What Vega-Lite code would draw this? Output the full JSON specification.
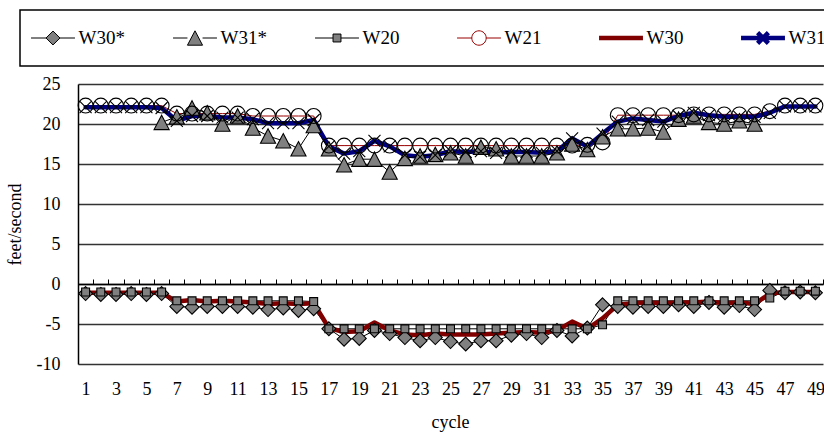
{
  "$schema": "https://vega.github.io/schema/vega-lite/v6.json",
  "width": 745,
  "height": 280,
  "autosize": {"type": "none"},
  "padding": {"left": 78, "top": 84, "right": 1, "bottom": 72},
  "background": "white",
  "config": {
    "view": {"stroke": null},
    "font": "Liberation Serif",
    "axis": {"labelFont": "Liberation Serif", "titleFont": "Liberation Serif", "labelColor": "black", "titleColor": "black", "titleFontWeight": "normal", "labelFontSize": 18, "titleFontSize": 18, "labelFlush": false},
    "legend": {"labelFont": "Liberation Serif", "labelFontSize": 19, "labelColor": "black", "labelLimit": 0}
  },
  "data": {
    "values": [
      {"cycle": 1, "W30*": -1.2, "W31*": null, "W20": -1.0, "W21": 22.3, "W30": -1.1, "W31": 22.1},
      {"cycle": 2, "W30*": -1.3, "W31*": null, "W20": -1.0, "W21": 22.3, "W30": -1.1, "W31": 22.1},
      {"cycle": 3, "W30*": -1.3, "W31*": null, "W20": -1.0, "W21": 22.3, "W30": -1.1, "W31": 22.1},
      {"cycle": 4, "W30*": -1.2, "W31*": null, "W20": -1.0, "W21": 22.3, "W30": -1.1, "W31": 22.1},
      {"cycle": 5, "W30*": -1.3, "W31*": null, "W20": -1.0, "W21": 22.3, "W30": -1.1, "W31": 22.1},
      {"cycle": 6, "W30*": -1.2, "W31*": 20.2, "W20": -1.0, "W21": 22.3, "W30": -1.1, "W31": 22.0},
      {"cycle": 7, "W30*": -2.8, "W31*": 20.9, "W20": -2.1, "W21": 21.3, "W30": -2.2, "W31": 20.4},
      {"cycle": 8, "W30*": -2.9, "W31*": 22.0, "W20": -2.1, "W21": 21.3, "W30": -2.0, "W31": 21.0},
      {"cycle": 9, "W30*": -2.8, "W31*": 21.4, "W20": -2.1, "W21": 21.3, "W30": -2.2, "W31": 21.0},
      {"cycle": 10, "W30*": -2.8, "W31*": 20.0, "W20": -2.1, "W21": 21.3, "W30": -2.1, "W31": 20.8},
      {"cycle": 11, "W30*": -2.8, "W31*": 21.0, "W20": -2.1, "W21": 21.3, "W30": -2.2, "W31": 20.8},
      {"cycle": 12, "W30*": -2.9, "W31*": 19.5, "W20": -2.1, "W21": 21.0, "W30": -2.3, "W31": 20.6},
      {"cycle": 13, "W30*": -3.2, "W31*": 18.5, "W20": -2.1, "W21": 21.0, "W30": -2.5, "W31": 20.1},
      {"cycle": 14, "W30*": -3.0, "W31*": 17.9, "W20": -2.1, "W21": 21.0, "W30": -2.4, "W31": 20.1},
      {"cycle": 15, "W30*": -3.3, "W31*": 16.9, "W20": -2.1, "W21": 21.0, "W30": -2.5, "W31": 20.1},
      {"cycle": 16, "W30*": -3.1, "W31*": 19.8, "W20": -2.2, "W21": 21.0, "W30": -2.4, "W31": 20.5},
      {"cycle": 17, "W30*": -5.6, "W31*": 16.9, "W20": -5.6, "W21": 17.3, "W30": -5.5, "W31": 17.2},
      {"cycle": 18, "W30*": -6.9, "W31*": 14.9, "W20": -5.6, "W21": 17.3, "W30": -6.0, "W31": 16.3},
      {"cycle": 19, "W30*": -6.8, "W31*": 15.6, "W20": -5.6, "W21": 17.3, "W30": -5.9, "W31": 16.6},
      {"cycle": 20, "W30*": -5.8, "W31*": 15.6, "W20": -5.6, "W21": 17.3, "W30": -4.8, "W31": 17.9},
      {"cycle": 21, "W30*": -6.2, "W31*": 14.0, "W20": -5.6, "W21": 17.3, "W30": -5.8, "W31": 17.2},
      {"cycle": 22, "W30*": -6.7, "W31*": 15.7, "W20": -5.6, "W21": 17.3, "W30": -6.3, "W31": 16.1},
      {"cycle": 23, "W30*": -7.1, "W31*": 16.0, "W20": -5.6, "W21": 17.3, "W30": -6.4, "W31": 15.9},
      {"cycle": 24, "W30*": -6.7, "W31*": 16.2, "W20": -5.6, "W21": 17.3, "W30": -6.2, "W31": 16.1},
      {"cycle": 25, "W30*": -7.2, "W31*": 16.4, "W20": -5.6, "W21": 17.3, "W30": -6.3, "W31": 16.6},
      {"cycle": 26, "W30*": -7.5, "W31*": 16.0, "W20": -5.6, "W21": 17.3, "W30": -6.3, "W31": 16.5},
      {"cycle": 27, "W30*": -7.1, "W31*": 17.1, "W20": -5.6, "W21": 17.3, "W30": -6.3, "W31": 16.6},
      {"cycle": 28, "W30*": -7.1, "W31*": 16.9, "W20": -5.6, "W21": 17.3, "W30": -6.2, "W31": 16.4},
      {"cycle": 29, "W30*": -6.4, "W31*": 16.0, "W20": -5.6, "W21": 17.3, "W30": -6.1, "W31": 16.5},
      {"cycle": 30, "W30*": -6.2, "W31*": 16.0, "W20": -5.6, "W21": 17.3, "W30": -6.0, "W31": 16.5},
      {"cycle": 31, "W30*": -6.7, "W31*": 16.0, "W20": -5.6, "W21": 17.3, "W30": -6.1, "W31": 16.4},
      {"cycle": 32, "W30*": -5.8, "W31*": 16.4, "W20": -5.6, "W21": 17.3, "W30": -5.8, "W31": 16.6},
      {"cycle": 33, "W30*": -6.5, "W31*": 17.5, "W20": -5.6, "W21": 17.3, "W30": -4.7, "W31": 18.2},
      {"cycle": 34, "W30*": -5.5, "W31*": 16.8, "W20": -5.6, "W21": 17.4, "W30": -5.6, "W31": 17.2},
      {"cycle": 35, "W30*": -2.6, "W31*": 18.4, "W20": -5.1, "W21": 17.7, "W30": -4.3, "W31": 18.8},
      {"cycle": 36, "W30*": -2.8, "W31*": 19.4, "W20": -2.1, "W21": 21.1, "W30": -2.6, "W31": 20.3},
      {"cycle": 37, "W30*": -2.9, "W31*": 19.4, "W20": -2.1, "W21": 21.1, "W30": -2.4, "W31": 20.7},
      {"cycle": 38, "W30*": -2.8, "W31*": 19.5, "W20": -2.1, "W21": 21.1, "W30": -2.3, "W31": 20.5},
      {"cycle": 39, "W30*": -2.8, "W31*": 19.0, "W20": -2.1, "W21": 21.1, "W30": -2.4, "W31": 20.3},
      {"cycle": 40, "W30*": -2.6, "W31*": 20.6, "W20": -2.1, "W21": 21.1, "W30": -2.3, "W31": 21.0},
      {"cycle": 41, "W30*": -2.8, "W31*": 21.0, "W20": -2.1, "W21": 21.2, "W30": -2.3, "W31": 21.4},
      {"cycle": 42, "W30*": -2.3, "W31*": 20.2, "W20": -2.1, "W21": 21.2, "W30": -2.2, "W31": 21.1},
      {"cycle": 43, "W30*": -2.9, "W31*": 20.0, "W20": -2.1, "W21": 21.2, "W30": -2.4, "W31": 20.9},
      {"cycle": 44, "W30*": -2.7, "W31*": 20.4, "W20": -2.1, "W21": 21.2, "W30": -2.3, "W31": 20.9},
      {"cycle": 45, "W30*": -3.2, "W31*": 20.0, "W20": -2.1, "W21": 21.2, "W30": -2.5, "W31": 20.9},
      {"cycle": 46, "W30*": -0.8, "W31*": null, "W20": -1.75, "W21": 21.6, "W30": -1.2, "W31": 21.4},
      {"cycle": 47, "W30*": -1.1, "W31*": null, "W20": -0.9, "W21": 22.3, "W30": -1.0, "W31": 22.2},
      {"cycle": 48, "W30*": -1.0, "W31*": null, "W20": -0.9, "W21": 22.3, "W30": -1.0, "W31": 22.2},
      {"cycle": 49, "W30*": -1.1, "W31*": null, "W20": -0.9, "W21": 22.3, "W30": -1.0, "W31": 22.2}
    ]
  },
  "transform": [
    {"fold": ["W30*", "W31*", "W20", "W21", "W30", "W31"], "as": ["series", "v"]},
    {"filter": "isValid(datum.v)"}
  ],
  "encoding": {
    "x": {
      "field": "cycle", "type": "quantitative",
      "scale": {"domain": [0.5, 49.5], "nice": false, "zero": false},
      "axis": {
        "orient": "bottom", "offset": -80,
        "values": [0.5, 1.5, 2.5, 3.5, 4.5, 5.5, 6.5, 7.5, 8.5, 9.5, 10.5, 11.5, 12.5, 13.5, 14.5, 15.5, 16.5, 17.5, 18.5, 19.5, 20.5, 21.5, 22.5, 23.5, 24.5, 25.5, 26.5, 27.5, 28.5, 29.5, 30.5, 31.5, 32.5, 33.5, 34.5, 35.5, 36.5, 37.5, 38.5, 39.5, 40.5, 41.5, 42.5, 43.5, 44.5, 45.5, 46.5, 47.5, 48.5, 49.5],
        "labelExpr": "(datum.value + 0.5) % 2 == 1 ? '' + (datum.value + 0.5) : ''",
        "labelOffset": 7.6, "labelOverlap": false, "labelBound": false,
        "ticks": true, "tickSize": -5, "tickColor": "black", "tickWidth": 1,
        "domain": true, "domainColor": "black", "domainWidth": 1.3, "grid": false,
        "labelPadding": 110, "labelBaseline": "middle",
        "title": "cycle", "titleX": 372, "titleY": 138, "titleAlign": "center", "titleBaseline": "middle"
      }
    },
    "y": {
      "field": "v", "type": "quantitative",
      "scale": {"domain": [-10, 25], "nice": false, "zero": false},
      "axis": {
        "values": [-10, -5, 0, 5, 10, 15, 20, 25],
        "labelExpr": "'' + datum.value", "labelOverlap": false,
        "grid": true, "gridColor": "#333333", "gridWidth": 1.3,
        "domain": true, "domainColor": "black", "domainWidth": 1.5,
        "ticks": false, "tickSize": 0, "labelPadding": 18,
        "title": "feet/second", "titleX": -63, "titleY": 140, "titleAngle": -90,
        "titleAlign": "center", "titleBaseline": "middle"
      }
    }
  },
  "layer": [
    {
      "mark": {"type": "line", "strokeJoin": "round", "strokeCap": "round"},
      "encoding": {
        "color": {
          "field": "series", "type": "nominal",
          "scale": {"domain": ["W30*", "W31*", "W20", "W21", "W30", "W31"], "range": ["#000000", "#000000", "#000000", "#990000", "#800000", "#000080"]},
          "legend": {
            "title": null, "orient": "none", "legendX": -58, "legendY": -74,
            "direction": "horizontal", "columns": 6, "gridAlign": "all", "columnPadding": 45,
            "padding": 8, "clipHeight": 40, "strokeColor": "black", "fillColor": "white",
            "symbolSize": 576, "symbolStrokeWidth": 1.5, "symbolOffset": 10.5,
            "labelOffset": 11,
            "encode": {
              "legend": {"update": {"strokeWidth": {"value": 1.5}}},
              "symbols": {
                "update": {
                  "shape": {"signal": "datum.value === 'W30*' ? 'M-1.83,0H-0.58M0.58,0H1.83M0,-0.58L0.58,0L0,0.58L-0.58,0Z' : datum.value === 'W31*' ? 'M-1.83,0H-0.63M0.63,0H1.83M0,-0.6L0.63,0.6L-0.63,0.6Z' : datum.value === 'W20' ? 'M-1.83,0H-0.33M0.33,0H1.83M-0.33,-0.33H0.33V0.33H-0.33Z' : datum.value === 'W21' ? 'M-1.83,0H-0.6M0.6,0H1.83M0.6,0A0.6,0.6,0,1,1,-0.6,0A0.6,0.6,0,1,1,0.6,0Z' : datum.value === 'W31' ? 'M-1.83,0H1.83M-0.45,-0.45L0.45,0.45M0.45,-0.45L-0.45,0.45' : 'M-1.83,0H1.83'"},
                  "fill": {"signal": "indexof(['W30*', 'W31*', 'W20'], datum.value) >= 0 ? '#808080' : 'transparent'"},
                  "strokeWidth": {"signal": "datum.value === 'W30' || datum.value === 'W31' ? 4 : 1"},
                  "opacity": {"value": 1}
                }
              }
            }
          }
        },
        "strokeWidth": {
          "field": "series", "type": "nominal",
          "scale": {"type": "ordinal", "domain": ["W30*", "W31*", "W20", "W21", "W30", "W31"], "range": [1, 1, 1, 1, 4.5, 4.5]},
          "legend": null
        }
      }
    },
    {
      "transform": [{"filter": "datum.series !== 'W30'"}],
      "mark": {"type": "point", "filled": true, "stroke": "black", "strokeWidth": 1.1, "size": 576, "opacity": 1},
      "encoding": {
        "shape": {
          "field": "series", "type": "nominal",
          "scale": {
            "domain": ["W30*", "W31*", "W20", "W21", "W31"],
            "range": [
              "M0,-0.58L0.58,0L0,0.58L-0.58,0Z",
              "M0,-0.6L0.63,0.6L-0.63,0.6Z",
              "M-0.33,-0.33H0.33V0.33H-0.33Z",
              "M0.62,0A0.62,0.62,0,1,1,-0.62,0A0.62,0.62,0,1,1,0.62,0Z",
              "M-0.5,-0.5L0.5,0.5M0.5,-0.5L-0.5,0.5"
            ]
          },
          "legend": null
        },
        "fill": {
          "field": "series", "type": "nominal",
          "scale": {"domain": ["W30*", "W31*", "W20", "W21", "W31"], "range": ["#808080", "#808080", "#808080", "transparent", "transparent"]},
          "legend": null
        }
      }
    }
  ]
}
